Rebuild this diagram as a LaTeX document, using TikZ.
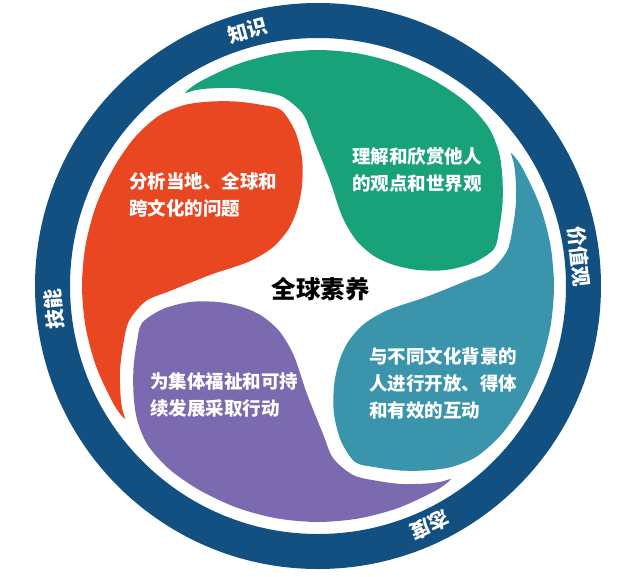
\documentclass[tikz,border=0pt]{standalone}
\usepackage{fontspec}
\newfontfamily\cjk{Noto Sans CJK SC}
\definecolor{ringblue}{RGB}{18,80,130}
\definecolor{redc}{RGB}{233,70,34}
\definecolor{greenc}{RGB}{24,162,122}
\definecolor{tealc}{RGB}{58,148,172}
\definecolor{purplec}{RGB}{124,106,176}
\begin{document}
\begin{tikzpicture}[x=1pt,y=1pt,
  bodytext/.style={text=white, inner sep=0pt, align=left, anchor=west,
    font=\cjk\bfseries\fontsize{18.5}{27}\selectfont},
  ringlabel/.style={text=white, inner sep=0pt,
    font=\cjk\bfseries\fontsize{20}{22}\selectfont},
  centertext/.style={text=black, inner sep=0pt,
    font=\cjk\bfseries\fontsize{24.5}{28}\selectfont}]
\useasboundingbox (-318,-290) rectangle (322,286);
\fill[white] (-318,-290) rectangle (322,286);
% outer ring
\fill[ringblue, even odd rule] (0,0) circle (283) (0,0) circle (248);
% four swirl shapes
\foreach \ang/\col in {0/redc, -90/greenc, 180/tealc, 90/purplec}{
  \fill[\col, rotate=\ang] plot[smooth cycle, tension=0.5] coordinates {
    (-193.3,-132.8) (-204.4,-118.0) (-221.8,-80.7) (-232.4,-41.0) (-236,0)
    (-232.4,41.0) (-221.8,80.7) (-204.4,118.0) (-183.4,148.5) (-158.9,170.4)
    (-133.8,180.9) (-108.6,184.4) (-82.2,184.5) (-57.1,181.2) (-37,176)
    (-23,155) (-16,128) (-16,100) (-21,76) (-30,56) (-46,38) (-70,24)
    (-108,11) (-148,-5) (-172,-15) (-189,-35) (-195,-60) (-198,-84)
    (-197.6,-107.6) (-195.9,-122.4)};
}
% texts
\node[bodytext] (tred) at (-189,91.5) {分析当地、全球和\\跨文化的问题};
\node[bodytext] (tgreen) at (34,116) {理解和欣赏他人\\的观点和世界观};
\node[bodytext] (tteal) at (51,-97.5) {与不同文化背景的\\人进行开放、得体\\和有效的互动};
\node[bodytext] (tpurple) at (-168,-109) {为集体福祉和可持\\续发展采取行动};
\node[centertext] (center) at (3,-3) {全球素养};
% ring labels
\node[ringlabel, rotate=15.4] (lzs) at (105.4:265) {知识};
\node[ringlabel, rotate=-83.5] (ljz) at (6.5:263) {价值观};
\node[ringlabel, rotate=95] (ljn) at (185:265) {技能};
\node[ringlabel, rotate=205] (ltd) at (295:264) {态度};
\end{tikzpicture}
\end{document}
